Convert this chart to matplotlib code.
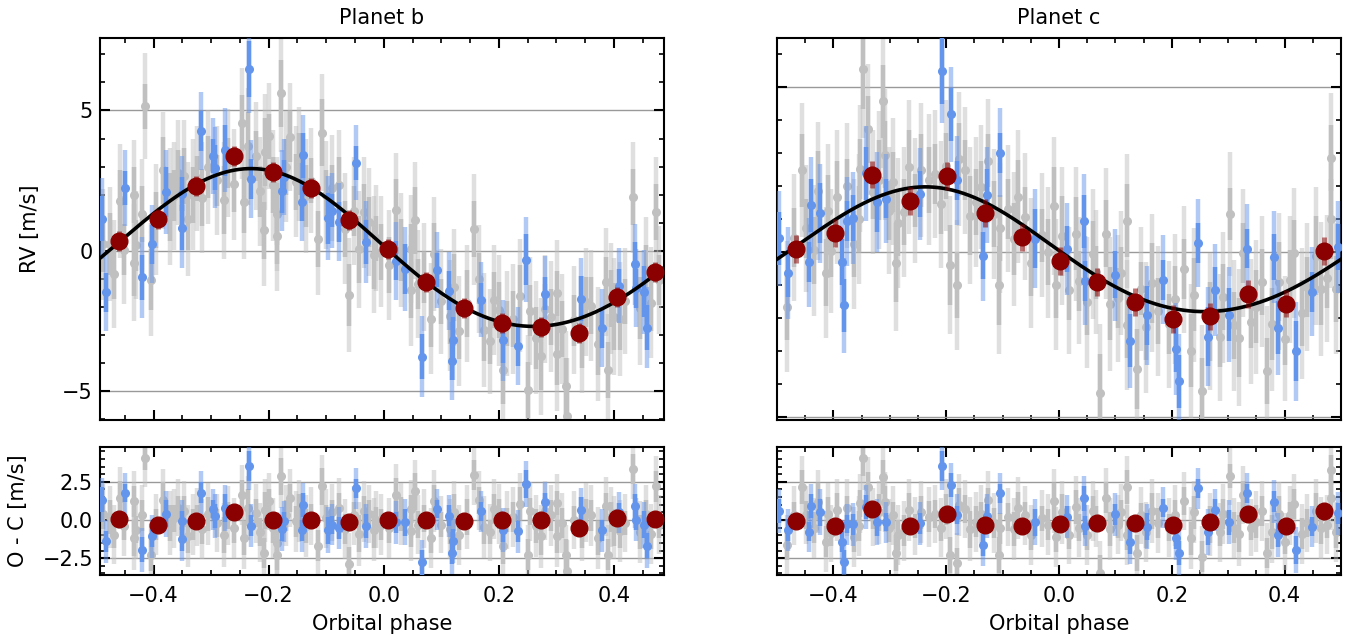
import numpy as np
import matplotlib
matplotlib.use("Agg")
import matplotlib.pyplot as plt
from matplotlib.ticker import MultipleLocator

# ---------------- data ----------------
# Planet b : gray instrument (phase, O-C residual, error)
b_gray_phase = [-0.488, -0.469, -0.459, -0.434, -0.434, -0.43, -0.414, -0.405, -0.395, -0.384,
                -0.365, -0.347, -0.34, -0.325, -0.315, -0.278, -0.27, -0.247, -0.243, -0.222,
                -0.208, -0.206, -0.199, -0.192, -0.186, -0.185, -0.179, -0.162, -0.153, -0.147,
                -0.126, -0.114, -0.108, -0.1, -0.078, -0.061, -0.052, -0.035, -0.017, -0.014,
                -0.005, 0.021, 0.047, 0.047, 0.054, 0.07, 0.082, 0.088, 0.1, 0.13,
                0.145, 0.157, 0.166, 0.175, 0.192, 0.208, 0.215, 0.224, 0.237, 0.25,
                0.255, 0.273, 0.29, 0.301, 0.301, 0.317, 0.319, 0.33, 0.36, 0.372,
                0.386, 0.389, 0.40, 0.42, 0.433, 0.445, 0.473, 0.478,
                -0.475, -0.452, -0.42, -0.372, -0.357, -0.332, -0.305, -0.29, -0.26, -0.235,
                -0.215, -0.17, -0.135, -0.09, -0.068, -0.043, -0.025, 0.01, 0.03, 0.06,
                0.115, 0.122, 0.185, 0.2, 0.265, 0.28, 0.31, 0.345, 0.352, 0.395,
                0.41, 0.455, 0.465]
b_gray_res = [0.41, -0.96, 1.44, 1.22, -1.18, -0.63, 4.05, -2.27, -0.3, 1.28,
              0.1, 0.56, -1.07, 0.2, -0.59, -0.98, 0.3, 1.63, -1.18, 0.45,
              -2.17, 0.63, 1.22, -0.5, -1.5, -2.27, 2.85, 1.44, -0.09, 0.6,
              0.25, -1.68, 2.2, 0.1, 0.78, -2.85, 0.3, 0.56, -0.63, 0.02,
              -0.3, 1.65, 0.72, -0.74, 1.87, 0.1, -1.18, 1.22, -0.3, -0.96,
              0.2, 2.96, 1.28, -0.46, 0.72, -1.68, 0.0, 0.2, 1.07, -2.27,
              0.56, -1.07, 0.3, 1.11, -1.07, -2.27, -3.36, 0.0, 0.3, -1.18,
              0.89, -2.27, -0.5, -0.2, 3.33, -0.8, 2.2, -0.3,
              0.2, -0.4, 0.3, -0.2, 0.8, -0.3, 0.4, -0.2, -0.5, 0.8,
              -0.8, 0.3, -0.4, 0.5, -0.6, -0.9, 0.4, -0.5, 0.4, -0.3,
              -0.6, 0.5, -0.8, 0.4, -0.4, 0.6, -0.2, -0.6, 0.5, 0.2,
              -0.7, 0.4, -0.9]
b_gray_err = [1.0, 0.9, 1.1, 1.0, 1.2, 0.9, 0.8, 1.1, 1.0, 1.2,
              0.9, 1.0, 1.1, 0.8, 1.0, 1.2, 0.9, 1.0, 1.1, 0.9,
              1.0, 1.2, 0.8, 1.0, 1.1, 1.0, 1.2, 0.9, 1.0, 1.1,
              0.8, 1.0, 1.2, 0.9, 1.0, 1.1, 0.9, 1.0, 1.2, 0.8,
              1.0, 1.1, 0.9, 1.0, 1.2, 0.9, 1.0, 1.1, 0.8, 1.0,
              1.2, 1.0, 0.9, 1.1, 1.0, 1.2, 0.8, 1.0, 1.1, 1.0,
              0.9, 1.2, 1.0, 0.8, 1.1, 1.0, 1.2, 0.9, 1.0, 1.1,
              0.9, 1.0, 1.2, 0.8, 1.0, 1.1, 1.0, 0.9,
              1.1, 0.9, 1.0, 1.2, 0.8, 1.0, 1.1, 0.9, 1.0, 1.2,
              0.9, 1.0, 1.1, 0.8, 1.0, 1.2, 0.9, 1.0, 1.1, 0.9,
              1.0, 1.2, 0.8, 1.0, 1.1, 0.9, 1.0, 1.2, 0.9, 1.0,
              1.1, 0.9, 1.0]
# Planet b : blue instrument
b_blue_phase = [-0.489, -0.482, -0.45, -0.42, -0.402, -0.378, -0.351, -0.351, -0.317, -0.297,
                -0.294, -0.275, -0.234, -0.23, -0.176, -0.174, -0.142, -0.141, -0.096, -0.09,
                -0.078, -0.049, -0.03, 0.021, 0.037, 0.066, 0.093, 0.114, 0.12, 0.118,
                0.169, 0.207, 0.233, 0.247, 0.28, 0.343, 0.379, 0.408, 0.437, 0.438,
                0.452, 0.458]
b_blue_res = [1.33, -1.4, 1.76, -1.94, -1.07, 0.41, -0.04, -1.24, 1.8, 0.72,
              0.28, 0.78, 3.55, -0.37, -0.59, -0.09, -0.68, 0.98, -0.68, -0.31,
              -0.53, 2.07, -0.41, -0.15, -0.15, -2.78, 0.72, 0.28, -1.4, -2.16,
              0.56, -0.63, -0.74, 2.37, 1.15, 0.68, -0.68, 0.5, 0.89, 0.02,
              -0.31, -1.68]
b_blue_err = [0.8, 0.7, 0.6, 0.8, 0.7, 0.9, 0.6, 0.8, 0.7, 0.6,
              0.8, 0.9, 1.0, 0.7, 0.8, 0.6, 0.7, 0.8, 0.9, 0.6,
              0.7, 0.6, 0.8, 0.7, 0.9, 0.8, 0.6, 0.7, 0.8, 0.7,
              0.6, 0.8, 0.7, 0.9, 0.6, 0.8, 0.7, 0.6, 0.8, 0.7,
              0.9, 0.8]
# Planet b : binned points (phase, RV)
b_bin_phase = [-0.4595, -0.393, -0.326, -0.26, -0.193, -0.127, -0.060, 0.007, 0.073, 0.139,
               0.206, 0.273, 0.339, 0.406, 0.472]
b_bin_rv = [0.36, 1.14, 2.32, 3.38, 2.82, 2.25, 1.1, 0.07, -1.1, -2.03,
            -2.57, -2.71, -2.92, -1.64, -0.75]
# Planet b : Keplerian model curve read at a few phases
b_curve_phase = [-0.492, -0.4595, -0.437, -0.393, -0.326, -0.263, -0.231, -0.193, -0.127, -0.060,
                 -0.031, 0.007, 0.073, 0.139, 0.206, 0.267, 0.339, 0.406, 0.472, 0.487]
b_curve_rv = [-0.3, 0.36, 0.74, 1.44, 2.32, 2.89, 2.97, 2.82, 2.25, 1.25,
              0.74, 0.07, -1.1, -1.98, -2.57, -2.68, -2.42, -1.74, -0.82, -0.62]

# Planet c : gray instrument
c_gray_phase = [-0.483, -0.456, -0.449, -0.427, -0.414, -0.404, -0.394, -0.363, -0.352, -0.347,
                -0.339, -0.33, -0.312, -0.309, -0.301, -0.289, -0.286, -0.266, -0.255, -0.231,
                -0.22, -0.193, -0.181, -0.178, -0.166, -0.147, -0.126, -0.106, -0.105, -0.09,
                -0.073, -0.05, -0.03, -0.008, -0.005, 0.018, 0.03, 0.05, 0.065, 0.073,
                0.084, 0.105, 0.12, 0.12, 0.139, 0.145, 0.175, 0.221, 0.234, 0.253,
                0.268, 0.303, 0.31, 0.327, 0.35, 0.369, 0.39, 0.401, 0.417, 0.44,
                0.465, 0.483, 0.483,
                -0.47, -0.435, -0.41, -0.375, -0.355, -0.32, -0.295, -0.275, -0.245, -0.21,
                -0.2, -0.158, -0.138, -0.115, -0.08, -0.06, -0.02, 0.005, 0.035, 0.06,
                0.09, 0.11, 0.155, 0.165, 0.195, 0.205, 0.24, 0.285, 0.29, 0.32,
                0.34, 0.36, 0.378, 0.41, 0.43, 0.455, 0.475, 0.492]
c_gray_res = [-1.63, 2.17, 0.33, 1.2, -1.41, -0.87, 0.65, -1.09, 1.09, 4.07,
              2.17, 0.2, 2.83, 1.2, -0.54, -2.17, -0.98, 0.65, -0.4, 0.22,
              0.4, -2.28, -2.83, 0.98, 0.72, -0.11, 1.3, -2.28, -0.54, 0.2,
              0.76, -0.98, 0.1, 1.24, -1.09, -0.98, 0.87, -0.98, 0.1, -3.48,
              1.46, -0.3, 2.17, -0.98, -2.17, 0.3, -0.2, 1.24, -1.2, -2.39,
              -0.3, 2.89, -0.5, 1.63, -0.1, -2.17, 0.4, -1.41, 1.04, -0.2,
              -0.5, 3.26, 1.41,
              0.3, -0.5, 0.4, 0.8, -0.4, 0.5, 0.3, -0.7, 0.5, -0.5,
              0.7, -0.6, 0.4, -0.2, -0.6, 0.3, -0.3, 0.5, -0.5, 0.6,
              -0.6, 0.5, -0.8, 0.6, -0.5, 0.3, 0.5, -0.8, 0.4, -0.9,
              -0.5, 0.6, -0.8, 0.3, -0.9, 0.6, -0.3, -0.8]
c_gray_err = [1.0, 1.1, 0.9, 1.2, 1.0, 0.8, 1.1, 1.0, 0.9, 1.2,
              1.0, 0.8, 1.1, 1.0, 0.9, 1.2, 1.0, 1.1, 0.8, 1.0,
              0.9, 1.2, 1.0, 1.1, 0.9, 1.0, 0.8, 1.2, 1.0, 0.9,
              1.1, 1.0, 0.8, 1.2, 1.0, 0.9, 1.1, 1.0, 0.8, 1.2,
              1.0, 0.9, 1.1, 1.0, 1.2, 0.8, 1.0, 0.9, 1.1, 1.0,
              1.2, 0.8, 1.0, 0.9, 1.1, 1.0, 1.2, 0.8, 1.0, 0.9,
              1.1, 1.0, 1.2,
              0.9, 1.0, 1.1, 0.8, 1.0, 1.2, 0.9, 1.0, 1.1, 0.9,
              1.0, 1.2, 0.8, 1.0, 1.1, 0.9, 1.0, 1.2, 0.9, 1.0,
              1.1, 0.8, 1.0, 1.2, 0.9, 1.0, 1.1, 0.9, 1.0, 1.2,
              0.8, 1.0, 1.1, 0.9, 1.0, 1.2, 0.9, 1.0]
# Planet c : blue instrument
c_blue_phase = [-0.496, -0.481, -0.443, -0.44, -0.424, -0.384, -0.381, -0.375, -0.365, -0.342,
                -0.322, -0.306, -0.247, -0.208, -0.191, -0.181, -0.134, -0.127, -0.105, -0.042,
                0.015, 0.045, 0.046, 0.1, 0.126, 0.156, 0.185, 0.208, 0.212, 0.246,
                0.264, 0.277, 0.301, 0.333, 0.382, 0.388, 0.421, 0.449, 0.495]
c_blue_res = [0.59, -0.65, -0.76, 0.93, 0.5, -1.41, -2.76, -0.28, -0.28, 0.87,
              -0.15, -0.15, -0.22, 3.54, 2.28, 0.33, -1.63, 0.26, 1.74, -0.15,
              0.22, 1.41, -0.37, 0.37, -1.41, -0.43, 0.8, -1.2, -2.17, 2.07,
              -0.76, 0.65, -0.15, 1.74, 1.2, -0.98, -1.96, -0.43, 0.43]
c_blue_err = [0.8, 0.7, 0.6, 0.8, 0.9, 0.7, 0.8, 0.6, 0.7, 0.8,
              0.9, 0.6, 0.7, 1.0, 0.8, 0.6, 0.7, 0.8, 0.6, 0.9,
              0.7, 0.8, 0.6, 0.7, 0.8, 0.9, 0.6, 0.7, 0.8, 0.6,
              0.9, 0.7, 0.8, 0.6, 0.7, 0.8, 0.9, 0.6, 0.7]
# Planet c : binned points
c_bin_phase = [-0.466, -0.398, -0.331, -0.265, -0.198, -0.132, -0.065, 0.002, 0.068, 0.135,
               0.202, 0.268, 0.335, 0.403, 0.469]
c_bin_rv = [0.09, 0.57, 2.34, 1.55, 2.3, 1.18, 0.44, -0.27, -0.91, -1.52,
            -2.03, -1.95, -1.26, -1.56, 0.02]
# Planet c : model curve read at a few phases
c_curve_phase = [-0.5, -0.466, -0.398, -0.331, -0.265, -0.198, -0.132, -0.065, 0.002, 0.068,
                 0.135, 0.202, 0.268, 0.335, 0.403, 0.469, 0.5]
c_curve_rv = [-0.22, 0.16, 0.90, 1.58, 1.98, 1.91, 1.51, 0.81, 0.01, -0.76,
              -1.30, -1.70, -1.80, -1.65, -1.28, -0.41, -0.22]

gray_jitter = 1.7
blue_jitter = 1.2
b_bin_err = 0.35
c_bin_err = 0.42

b_xlim = (-0.493, 0.487)
c_xlim = (-0.5, 0.5)


def fourier_design(ph, order=2):
    ph = np.asarray(ph, float)
    cols = [np.ones_like(ph)]
    for k in range(1, order + 1):
        cols.append(np.cos(2 * np.pi * k * ph))
        cols.append(np.sin(2 * np.pi * k * ph))
    return np.vstack(cols).T


def fit_model(ph, rv):
    coef, *_ = np.linalg.lstsq(fourier_design(ph), np.asarray(rv, float), rcond=None)
    return lambda x: fourier_design(np.atleast_1d(x)) @ coef


b_model = fit_model(b_curve_phase, b_curve_rv)
c_model = fit_model(c_curve_phase, c_curve_rv)

# ---------------- figure ----------------
FS = 15
plt.rcParams['font.size'] = FS
fig = plt.figure(figsize=(13.54, 6.41), dpi=100)
W, H = 1354.0, 641.0


def axes_px(x0, x1, y0, y1):
    return fig.add_axes([x0 / W, 1 - y1 / H, (x1 - x0) / W, (y1 - y0) / H])


ax_b = axes_px(100, 664, 38, 420)
ax_c = axes_px(777, 1341, 38, 420)
ax_bo = axes_px(100, 664, 447, 575)
ax_co = axes_px(777, 1341, 447, 575)

GRAY = '#c0c0c0'
BLUE = '#6495ed'
RED = '#8b0000'


def draw_inst(ax, ph, y, err, jit, color, z):
    ph = np.asarray(ph); y = np.asarray(y); err = np.asarray(err)
    tot = np.sqrt(err ** 2 + jit ** 2)
    ax.errorbar(ph, y, yerr=tot, fmt='none', ecolor=color, alpha=0.5,
                elinewidth=3.2, capsize=0, zorder=z)
    ax.errorbar(ph, y, yerr=err, fmt='o', color=color, ms=5.5,
                elinewidth=3.2, capsize=0, zorder=z + 0.1)


def panel(ax, axo, gp, gr, ge, bp, br, be, binp, binrv, binerr, mdl, xlim, title):
    gp = np.asarray(gp); bp = np.asarray(bp)
    g_rv = np.asarray(gr) + mdl(gp)
    b_rv = np.asarray(br) + mdl(bp)
    draw_inst(ax, gp, g_rv, ge, gray_jitter, GRAY, 2)
    draw_inst(ax, bp, b_rv, be, blue_jitter, BLUE, 3)
    draw_inst(axo, gp, gr, ge, gray_jitter, GRAY, 2)
    draw_inst(axo, bp, br, be, blue_jitter, BLUE, 3)
    xx = np.linspace(xlim[0], xlim[1], 500)
    ax.plot(xx, mdl(xx), color='black', lw=2.6, zorder=5)
    binp = np.asarray(binp); binrv = np.asarray(binrv)
    ax.errorbar(binp, binrv, yerr=binerr, fmt='o', color=RED, ms=12,
                ecolor=(0.545, 0, 0, 0.55), elinewidth=3.5, capsize=0, zorder=6)
    axo.errorbar(binp, binrv - mdl(binp), yerr=binerr, fmt='o', color=RED,
                 ms=12, ecolor=(0.545, 0, 0, 0.55), elinewidth=3.5, capsize=0, zorder=6)
    ax.set_title(title, fontsize=FS, pad=10)
    for a in (ax, axo):
        a.set_xlim(xlim)
        a.xaxis.set_major_locator(MultipleLocator(0.2))
        a.xaxis.set_minor_locator(MultipleLocator(0.05))
        a.grid(axis='y', color='#999999', lw=1.0)
        a.set_axisbelow(True)
        a.tick_params(which='both', direction='in', top=True, right=True, labelsize=FS)
        a.tick_params(which='major', length=7, width=1.5)
        a.tick_params(axis='x', which='major', pad=8)
        a.tick_params(axis='y', which='major', pad=5)
        a.tick_params(which='minor', length=3.5, width=1.2)
        for s in a.spines.values():
            s.set_linewidth(1.5)
    ax.yaxis.set_major_locator(MultipleLocator(5))
    ax.yaxis.set_minor_locator(MultipleLocator(1))
    axo.yaxis.set_major_locator(MultipleLocator(2.5))
    axo.yaxis.set_minor_locator(MultipleLocator(0.5))
    ax.tick_params(labelbottom=False)
    axo.set_xlabel('Orbital phase', fontsize=FS, labelpad=6)
    axo.set_ylim(-3.6, 4.78)


panel(ax_b, ax_bo, b_gray_phase, b_gray_res, b_gray_err, b_blue_phase, b_blue_res, b_blue_err,
      b_bin_phase, b_bin_rv, b_bin_err, b_model, b_xlim, 'Planet b')
panel(ax_c, ax_co, c_gray_phase, c_gray_res, c_gray_err, c_blue_phase, c_blue_res, c_blue_err,
      c_bin_phase, c_bin_rv, c_bin_err, c_model, c_xlim, 'Planet c')

ax_b.set_ylim(-6.02, 7.58)
ax_c.set_ylim(-5.08, 6.47)
ax_b.set_ylabel('RV [m/s]', fontsize=FS)
ax_bo.set_ylabel('O - C [m/s]', fontsize=FS)
ax_b.yaxis.set_label_coords((40 - 100) / 564.0, 0.5)
ax_bo.yaxis.set_label_coords((28 - 100) / 564.0, 0.5)
ax_c.tick_params(labelleft=False)
ax_co.tick_params(labelleft=False)

fig.savefig('out.png', dpi=100)
